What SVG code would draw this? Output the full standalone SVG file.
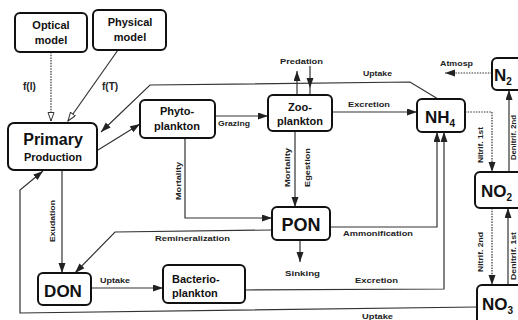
<svg xmlns="http://www.w3.org/2000/svg" width="518" height="320" viewBox="0 0 518 320">
<defs>
<marker id="ah" markerUnits="userSpaceOnUse" markerWidth="11" markerHeight="8" refX="10" refY="3.5" orient="auto">
<path d="M0,0 L10,3.5 L0,7 z" fill="#222"/>
</marker>
<marker id="hol" markerUnits="userSpaceOnUse" markerWidth="11" markerHeight="9" refX="9" refY="3.5" orient="auto">
<path d="M0.5,0.5 L9,3.5 L0.5,6.5 z" fill="#fff" stroke="#333" stroke-width="1"/>
</marker>
</defs>
<style>
.box{fill:#fff;stroke:#111;stroke-width:2}
.t{font-family:"Liberation Sans",Arial,sans-serif;font-weight:bold;fill:#111;text-anchor:middle}
.n11{font-size:11px}
.big{font-size:17px}
.lb{font-family:"Liberation Sans",Arial,sans-serif;font-weight:bold;fill:#222;font-size:7.5px}
.c{fill:none;stroke:#333;stroke-width:1.2}
.d{stroke-dasharray:1.5 1.2}
</style>
<rect width="518" height="320" fill="#fff"/>
<g id="connectors">
<line class="c d" x1="51" y1="52" x2="51" y2="121" marker-end="url(#hol)"/>
<line class="c" x1="118" y1="50" x2="68" y2="121" marker-end="url(#hol)"/>
<polyline class="c" points="438,99 410,82 150,85 101,132" marker-end="url(#ah)"/>
<line class="c" x1="98" y1="150" x2="140" y2="124" marker-end="url(#ah)"/>
<line class="c" x1="215" y1="116" x2="268" y2="116" marker-end="url(#ah)"/>
<line class="c" x1="297" y1="95" x2="297" y2="71" marker-end="url(#ah)"/>
<line class="c" x1="310" y1="66" x2="310" y2="88" marker-end="url(#ah)"/>
<line class="c" x1="310" y1="88" x2="310" y2="95"/>
<line class="c" x1="332" y1="112" x2="417" y2="112" marker-end="url(#ah)"/>
<line class="c" x1="295" y1="131" x2="295" y2="207" marker-end="url(#ah)"/>
<polyline class="c" points="185,138 185,218 272,218" marker-end="url(#ah)"/>
<polyline class="c" points="272,230 115,232 75,273" marker-end="url(#ah)"/>
<line class="c" x1="62" y1="170" x2="62" y2="273" marker-end="url(#ah)"/>
<line class="c" x1="91" y1="288" x2="163" y2="288" marker-end="url(#ah)"/>
<polyline class="c" points="330,227 437,227 437,132" marker-end="url(#ah)"/>
<polyline class="c" points="245,290 444,289 444,132" marker-end="url(#ah)"/>
<line class="c" x1="300" y1="240" x2="300" y2="262" marker-end="url(#ah)"/>
<polyline class="c" points="477,307 20,313 20,190 43,171" marker-end="url(#ah)"/>
<polyline class="c d" points="465,112 492,112 492,172" marker-end="url(#ah)"/>
<line class="c d" x1="492" y1="73" x2="445" y2="73" marker-end="url(#ah)"/>
<line class="c" x1="509" y1="172" x2="509" y2="90" marker-end="url(#ah)"/>
<line class="c d" x1="492" y1="208" x2="492" y2="285" marker-end="url(#ah)"/>
<line class="c" x1="508" y1="285" x2="508" y2="208" marker-end="url(#ah)"/>
</g>
<g id="labels">
<text class="lb" x="23" y="90" style="font-size:10px">f(I)</text>
<text class="lb" x="102" y="90" style="font-size:10px">f(T)</text>
<text class="lb" x="280" y="64" textLength="43" lengthAdjust="spacingAndGlyphs">Predation</text>
<text class="lb" x="363" y="76" textLength="29" lengthAdjust="spacingAndGlyphs">Uptake</text>
<text class="lb" x="440" y="66" textLength="33" lengthAdjust="spacingAndGlyphs">Atmosp</text>
<text class="lb" x="218" y="126" textLength="32" lengthAdjust="spacingAndGlyphs">Grazing</text>
<text class="lb" x="348" y="107" textLength="42" lengthAdjust="spacingAndGlyphs">Excretion</text>
<text class="lb" transform="translate(181,200) rotate(-90)" textLength="38" lengthAdjust="spacingAndGlyphs">Mortality</text>
<text class="lb" transform="translate(290,187) rotate(-90)" textLength="39" lengthAdjust="spacingAndGlyphs">Mortality</text>
<text class="lb" transform="translate(310,187) rotate(-90)" textLength="39" lengthAdjust="spacingAndGlyphs">Egestion</text>
<text class="lb" transform="translate(55,242) rotate(-90)" textLength="42" lengthAdjust="spacingAndGlyphs">Exudation</text>
<text class="lb" x="155" y="241" textLength="75" lengthAdjust="spacingAndGlyphs">Remineralization</text>
<text class="lb" x="343" y="236" textLength="70" lengthAdjust="spacingAndGlyphs">Ammonification</text>
<text class="lb" x="100" y="283" textLength="30" lengthAdjust="spacingAndGlyphs">Uptake</text>
<text class="lb" x="285" y="276" textLength="35" lengthAdjust="spacingAndGlyphs">Sinking</text>
<text class="lb" x="355" y="283" textLength="43" lengthAdjust="spacingAndGlyphs">Excretion</text>
<text class="lb" x="362" y="319" textLength="31" lengthAdjust="spacingAndGlyphs">Uptake</text>
<text class="lb" transform="translate(483,163) rotate(-90)" textLength="36" lengthAdjust="spacingAndGlyphs">Nitrif. 1st</text>
<text class="lb" transform="translate(483,272) rotate(-90)" textLength="40" lengthAdjust="spacingAndGlyphs">Nitrif. 2nd</text>
<text class="lb" transform="translate(516,160) rotate(-90)" textLength="45" lengthAdjust="spacingAndGlyphs">Denitrif. 2nd</text>
<text class="lb" transform="translate(516,280) rotate(-90)" textLength="48" lengthAdjust="spacingAndGlyphs">Denitrif. 1st</text>
</g>
<g id="optical">
<rect class="box" x="15" y="13" width="72" height="39" rx="5"/>
<text class="t n11" x="51" y="29">Optical</text>
<text class="t n11" x="51" y="44">model</text>
</g>
<g id="physical">
<rect class="box" x="93" y="10" width="73" height="40" rx="5"/>
<text class="t n11" x="130" y="26">Physical</text>
<text class="t n11" x="130" y="41">model</text>
</g>
<g id="primary">
<rect class="box" x="8" y="123" width="89" height="47" rx="6"/>
<text class="t" x="53" y="145" style="font-size:16px">Primary</text>
<text class="t n11" x="53" y="161">Production</text>
</g>
<g id="phyto">
<rect class="box" x="140" y="100" width="75" height="38" rx="5"/>
<text class="t n11" x="177" y="115">Phyto-</text>
<text class="t n11" x="177" y="130">plankton</text>
</g>
<g id="zoo">
<rect class="box" x="268" y="95" width="64" height="36" rx="5"/>
<text class="t n11" x="300" y="111">Zoo-</text>
<text class="t n11" x="300" y="125">plankton</text>
</g>
<g id="nh4">
<rect class="box" x="417" y="99" width="48" height="33" rx="5"/>
<text class="t big" x="440" y="123">NH<tspan font-size="10px" dy="4">4</tspan></text>
</g>
<g id="n2">
<rect class="box" x="492" y="58" width="40" height="32" rx="5"/>
<text class="t big" x="494" y="81" style="text-anchor:start">N<tspan font-size="10px" dy="4">2</tspan></text>
</g>
<g id="no2">
<rect class="box" x="475" y="172" width="55" height="36" rx="5"/>
<text class="t big" x="481" y="197" style="text-anchor:start">NO<tspan font-size="10px" dy="4">2</tspan></text>
</g>
<g id="no3">
<rect class="box" x="477" y="285" width="55" height="45" rx="5"/>
<text class="t big" x="482" y="310" style="text-anchor:start">NO<tspan font-size="10px" dy="4">3</tspan></text>
</g>
<g id="pon">
<rect class="box" x="272" y="207" width="58" height="33" rx="5"/>
<text class="t" x="301" y="231" style="font-size:18px">PON</text>
</g>
<g id="don">
<rect class="box" x="38" y="273" width="53" height="32" rx="5"/>
<text class="t big" x="63" y="297">DON</text>
</g>
<g id="bacterio">
<rect class="box" x="163" y="265" width="82" height="38" rx="5"/>
<text class="t n11" x="172" y="283" style="text-anchor:start">Bacterio-</text>
<text class="t n11" x="172" y="297" style="text-anchor:start">plankton</text>
</g>
</svg>
